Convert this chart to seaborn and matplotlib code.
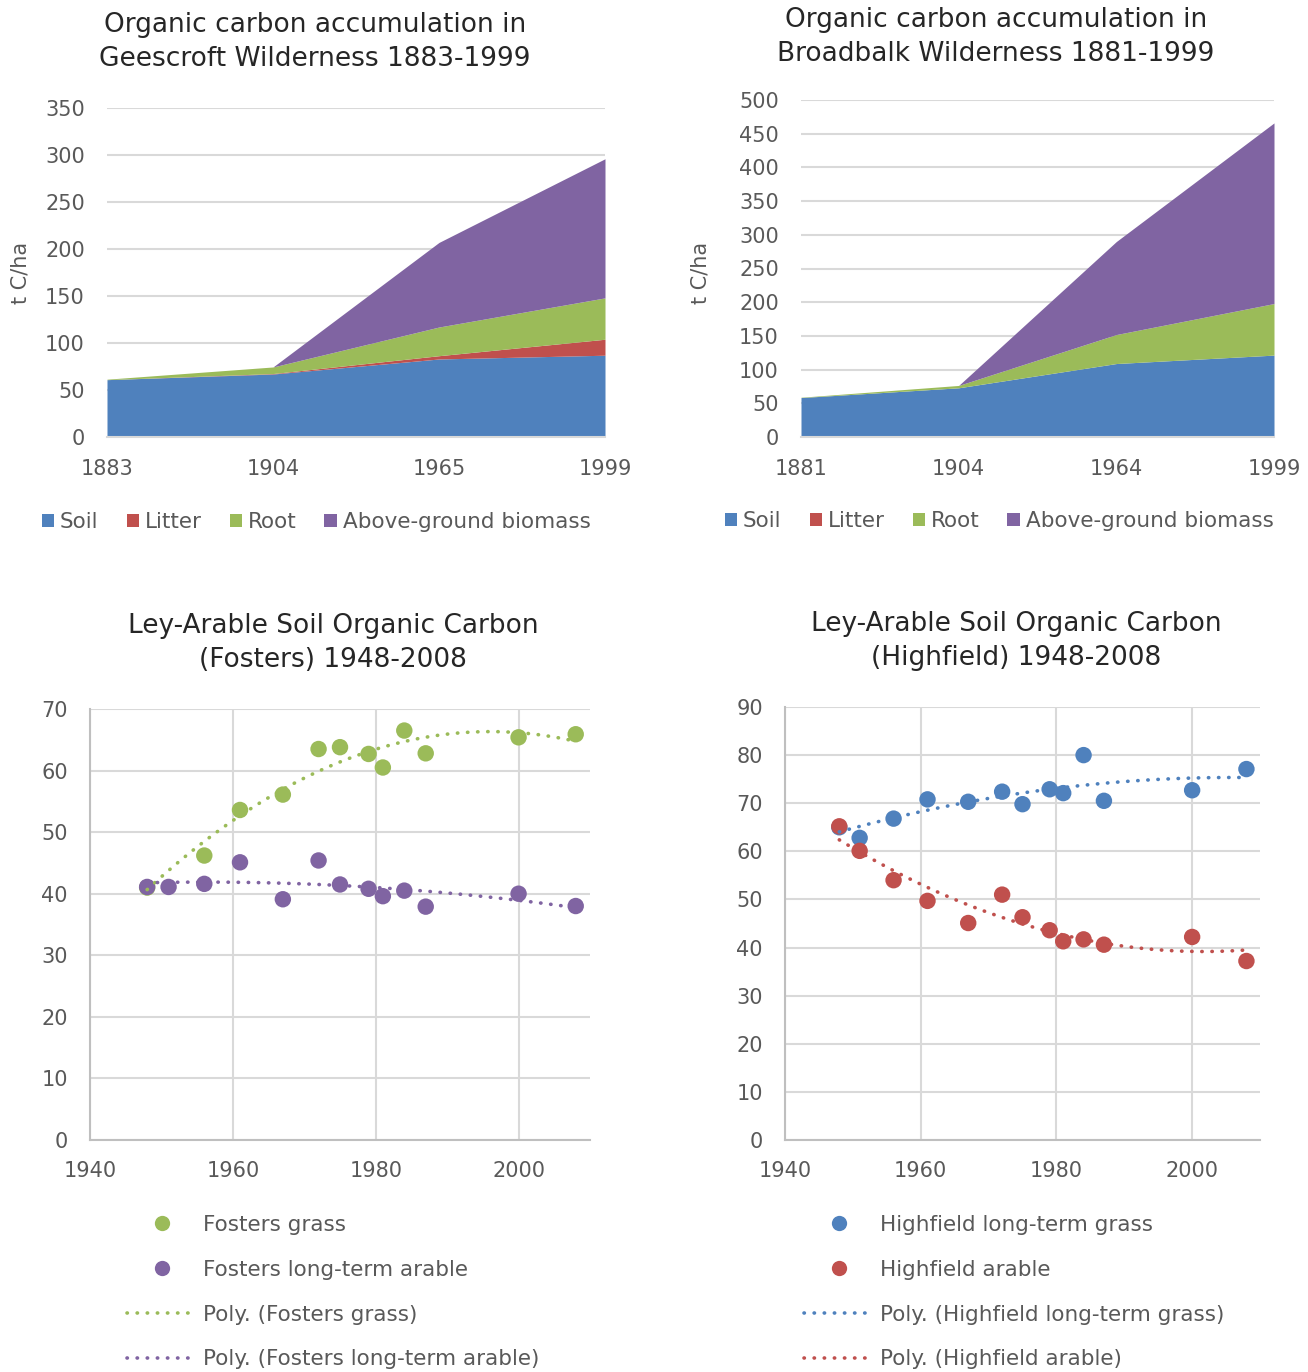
import numpy as np
import pandas as pd
import matplotlib
matplotlib.use("Agg")
import matplotlib.pyplot as plt
from matplotlib.patches import Patch
from matplotlib.lines import Line2D
import seaborn as sns

# ---- data -------------------------------------------------------------
geescroft_years = ["1883", "1904", "1965", "1999"]
geescroft_soil = [61, 67, 83, 87]
geescroft_litter = [0, 0.5, 3.5, 17]
geescroft_root = [0.5, 7, 30.5, 44]
geescroft_agb = [0, 0, 90, 148]

broadbalk_years = ["1881", "1904", "1964", "1999"]
broadbalk_soil = [58.5, 73, 109, 121.5]
broadbalk_litter = [0, 0, 0, 0]
broadbalk_root = [0.5, 3.5, 43, 76.5]
broadbalk_agb = [0, 0, 138, 268]

fosters_years = [1948, 1951, 1956, 1961, 1967, 1972, 1975, 1979, 1981, 1984, 1987, 2000, 2008]
fosters_grass_years = [1948, 1956, 1961, 1967, 1972, 1975, 1979, 1981, 1984, 1987, 2000, 2008]
fosters_grass = [41.0, 46.2, 53.6, 56.1, 63.5, 63.8, 62.7, 60.5, 66.5, 62.8, 65.4, 65.9]
fosters_arable = [41.1, 41.1, 41.6, 45.1, 39.1, 45.4, 41.5, 40.8, 39.6, 40.5, 37.9, 40.0, 38.0]

highfield_years = [1948, 1951, 1956, 1961, 1967, 1972, 1975, 1979, 1981, 1984, 1987, 2000, 2008]
highfield_grass = [65.0, 62.8, 66.8, 70.8, 70.3, 72.4, 69.8, 72.9, 72.1, 80.0, 70.5, 72.7, 77.1]
highfield_arable = [65.2, 60.1, 54.0, 49.7, 45.1, 51.0, 46.3, 43.6, 41.3, 41.7, 40.6, 42.2, 37.2]

components = ["Soil", "Litter", "Root", "Above-ground biomass"]

# ---- style ------------------------------------------------------------
sns.set_style("white")
plt.rcParams["font.family"] = ["DejaVu Sans"]
BLUE, RED, GREEN, PURPLE = "#4F81BD", "#C0504D", "#9BBB59", "#8064A2"
TXT = "#595959"
GRID = "#D9D9D9"
TICK_FS = 15
LEG_FS = 15.5
TITLE_FS = 19

W, H = 1308, 1372
fig = plt.figure(figsize=(W / 100, H / 100), dpi=100)


def rect(l, t, r, b):
    return [l / W, 1 - b / H, (r - l) / W, (b - t) / H]


def fx(px):
    return px / W


def fy(py):
    return 1 - py / H


DOT = (0, (0.1, 2.7))


def area_panel(box, years, soil, litter, root, agb, ymax, ystep, title_xy, title, ylab_x):
    ax = fig.add_axes(rect(*box))
    df = pd.DataFrame({"year": years, "Soil": soil, "Litter": litter,
                       "Root": root, "Above-ground biomass": agb})
    x = np.arange(len(df))
    ax.stackplot(x, *[df[c] for c in components],
                 colors=[BLUE, RED, GREEN, PURPLE], linewidth=0)
    ax.set_xlim(0, len(df) - 1)
    ax.set_ylim(0, ymax)
    ax.set_xticks(x)
    ax.set_xticklabels(df["year"])
    ax.set_yticks(np.arange(0, ymax + 1, ystep))
    ax.yaxis.grid(True, color=GRID, linewidth=1.5)
    ax.set_axisbelow(True)
    for s in ["top", "right", "left"]:
        ax.spines[s].set_visible(False)
    ax.spines["bottom"].set_color(GRID)
    ax.spines["bottom"].set_linewidth(1.5)
    ax.tick_params(axis="x", length=7, width=1.5, color=GRID, colors=TXT,
                   labelsize=TICK_FS, pad=9, direction="out")
    ax.tick_params(axis="y", length=0, colors=TXT, labelsize=TICK_FS, pad=16)
    ax.set_xlabel("")
    fig.text(fx(ylab_x), fy(273), "t C/ha", rotation=90, ha="center", va="center",
             fontsize=TICK_FS, color=TXT)
    fig.text(fx(title_xy[0]), fy(title_xy[1]), title, ha="center", va="center",
             fontsize=TITLE_FS, color="#262626", linespacing=1.38)
    return ax


a1 = area_panel((107, 108, 605, 437), geescroft_years, geescroft_soil, geescroft_litter,
                geescroft_root, geescroft_agb, 350, 50, (315, 42),
                "Organic carbon accumulation in\nGeescroft Wilderness 1883-1999", 20)
a2 = area_panel((801, 100, 1274, 437), broadbalk_years, broadbalk_soil, broadbalk_litter,
                broadbalk_root, broadbalk_agb, 500, 50, (996, 37),
                "Organic carbon accumulation in\nBroadbalk Wilderness 1881-1999", 700)

area_handles = [Patch(facecolor=c, edgecolor="none") for c in [BLUE, RED, GREEN, PURPLE]]
for ax, (lx, ly) in [(a1, (42, 522)), (a2, (725, 521))]:
    ax.legend(area_handles, components, loc="center left",
              bbox_to_anchor=(fx(lx), fy(ly)), bbox_transform=fig.transFigure,
              ncol=4, frameon=False, fontsize=LEG_FS, handlelength=0.56,
              handleheight=0.56, handletextpad=0.28, columnspacing=1.3,
              borderpad=0, borderaxespad=0, labelcolor=TXT)


def scatter_panel(box, ymax, series, title_xy, title, leg_xy):
    ax = fig.add_axes(rect(*box))
    for yrs, vals, col, _ in series:
        sns.scatterplot(x=yrs, y=vals, color=col, s=140, edgecolor="none",
                        ax=ax, legend=False, zorder=3)
    for yrs, vals, col, _ in series:
        sns.regplot(x=np.array(yrs, float), y=np.array(vals, float), order=2, ci=None,
                    scatter=False, ax=ax,
                    line_kws=dict(color=col, linestyle=DOT, linewidth=2.6,
                                  dash_capstyle="round", zorder=4))
    ax.set_xlim(1940, 2010)
    ax.set_ylim(0, ymax)
    ax.set_xticks([1940, 1960, 1980, 2000])
    ax.set_yticks(np.arange(0, ymax + 1, 10))
    ax.grid(True, color=GRID, linewidth=1.5)
    ax.set_axisbelow(True)
    for s in ["top", "right"]:
        ax.spines[s].set_visible(False)
    for s in ["left", "bottom"]:
        ax.spines[s].set_color("#BFBFBF")
        ax.spines[s].set_linewidth(1.5)
    ax.tick_params(axis="both", length=0, colors=TXT, labelsize=TICK_FS)
    ax.tick_params(axis="y", pad=16)
    ax.tick_params(axis="x", pad=15)
    fig.text(fx(title_xy[0]), fy(title_xy[1]), title, ha="center", va="center",
             fontsize=TITLE_FS, color="#262626", linespacing=1.38)
    handles, labels = [], []
    for _, _, col, name in series:
        handles.append(Line2D([], [], marker="o", linestyle="none", markersize=11,
                              color=col, markeredgecolor="none"))
        labels.append(name)
    for _, _, col, name in series:
        handles.append(Line2D([], [], linestyle=DOT, linewidth=2.6, color=col,
                              dash_capstyle="round"))
        labels.append(f"Poly. ({name})")
    ax.legend(handles, labels, loc="upper left",
              bbox_to_anchor=(fx(leg_xy[0]), fy(leg_xy[1])), bbox_transform=fig.transFigure,
              frameon=False, fontsize=LEG_FS, handlelength=3.25, handletextpad=0.28,
              labelspacing=1.15, borderpad=0, borderaxespad=0, labelcolor=TXT)
    return ax


scatter_panel((90, 709, 590, 1140), 70,
              [(fosters_grass_years, fosters_grass, GREEN, "Fosters grass"),
               (fosters_years, fosters_arable, PURPLE, "Fosters long-term arable")],
              (333, 643), "Ley-Arable Soil Organic Carbon\n(Fosters) 1948-2008", (127, 1215))
scatter_panel((785, 707, 1260, 1140), 90,
              [(highfield_years, highfield_grass, BLUE, "Highfield long-term grass"),
               (highfield_years, highfield_arable, RED, "Highfield arable")],
              (1016, 641), "Ley-Arable Soil Organic Carbon\n(Highfield) 1948-2008", (804, 1215))

fig.savefig("out.png", dpi=100)
